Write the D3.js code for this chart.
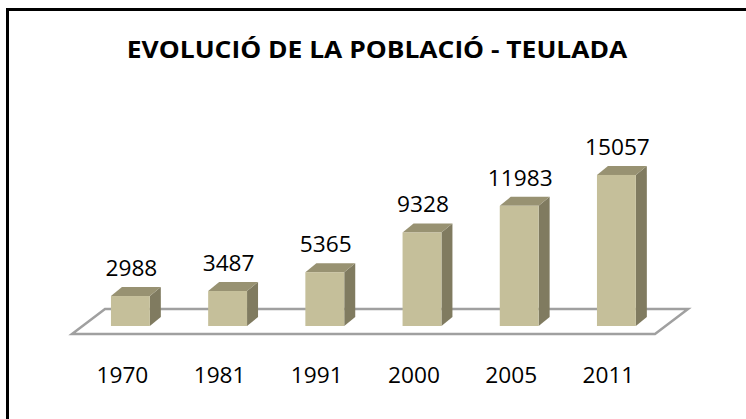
<!DOCTYPE html>
<html lang="en">
	<head>
		<meta charset="utf-8">
		<title>Evolució de la població - Teulada</title>
		<script type="text/javascript" src="https://cdn.jsdelivr.net/npm/d3@7"></script>
		<style type="text/css">
			body { margin: 0; background: #fff; }
			text { font-family: "Open Sans", "Liberation Sans", sans-serif; fill: #000; }
		</style>
	</head>
	<body>
		<script type="text/javascript">

			var width = 746;
			var height = 419;

			// data
			var years = ["1970", "1981", "1991", "2000", "2005", "2011"];
			var population = [2988, 3487, 5365, 9328, 11983, 15057];
			var title = "EVOLUCIÓ DE LA POBLACIÓ - TEULADA";

			var svg = d3.select("body")
						.append("svg")
						.attr("width", width)
						.attr("height", height);

			// outer frame (runs off the right and bottom edge)
			svg.append("rect")
				.attr("x", 7.5).attr("y", 9.5)
				.attr("width", 760).attr("height", 430)
				.attr("fill", "#fff")
				.attr("stroke", "#000")
				.attr("stroke-width", 3);

			// the original text is a bit wider than Open Sans, so stretch it
			svg.append("text")
				.attr("transform", "translate(377,58) scale(1.1,1)")
				.attr("text-anchor", "middle")
				.style("font-weight", "bold")
				.style("font-size", "24px")
				.text(title);

			var base = 326;       // bottom of bar front faces
			var bdx = 11, bdy = -9; // bar depth
			var fdx = 33, fdy = -25; // floor depth

			var xScale = d3.scaleBand()
				.domain(years)
				.range([81.8, 665])
				.paddingInner(0.6)
				.paddingOuter(0.3);

			var yScale = d3.scaleLinear()
				.domain([0, 16000])
				.range([base, base - 160.5]);

			// floor
			var fl = 72, fr = 655, fy = 334;
			svg.append("path")
				.attr("d", "M" + fl + "," + fy + "L" + fr + "," + fy +
					"L" + (fr + fdx) + "," + (fy + fdy) + "L" + (fl + fdx) + "," + (fy + fdy) + "Z")
				.attr("fill", "#fff")
				.attr("stroke", "#a0a0a0")
				.attr("stroke-width", 2.5)
				.attr("stroke-linejoin", "miter");

			var bw = xScale.bandwidth();
			var bars = svg.selectAll("g.bar").data(years).enter()
				.append("g").attr("class", "bar");

			// side face
			bars.append("path")
				.attr("fill", "#807b60")
				.attr("d", function(d, i){
					var x = xScale(d) + bw, y = yScale(population[i]);
					return "M" + x + "," + base + "L" + x + "," + y +
						"L" + (x + bdx) + "," + (y + bdy) + "L" + (x + bdx) + "," + (base + bdy) + "Z";
				});

			// top face
			bars.append("path")
				.attr("fill", "#989272")
				.attr("d", function(d, i){
					var x = xScale(d), y = yScale(population[i]);
					return "M" + x + "," + y + "L" + (x + bw) + "," + y +
						"L" + (x + bw + bdx) + "," + (y + bdy) + "L" + (x + bdx) + "," + (y + bdy) + "Z";
				});

			// front face
			bars.append("rect")
				.attr("x", function(d){ return xScale(d); })
				.attr("y", function(d, i){ return yScale(population[i]); })
				.attr("width", bw)
				.attr("height", function(d, i){ return base - yScale(population[i]); })
				.attr("fill", "#c5bf9a");

			// value labels
			svg.selectAll("text.val").data(years).enter()
				.append("text")
				.attr("class", "val")
				.attr("transform", function(d, i){
					return "translate(" + (xScale(d) + bw / 2 + 1) + "," + (yScale(population[i]) - 20) + ") scale(1.08,1)";
				})
				.attr("text-anchor", "middle")
				.style("font-size", "21px")
				.text(function(d, i){ return population[i]; });

			// category labels
			svg.selectAll("text.cat").data(years).enter()
				.append("text")
				.attr("class", "cat")
				.attr("transform", function(d){
					return "translate(" + (xScale(d) + bw / 2 - 8) + ",383) scale(1.08,1)";
				})
				.attr("text-anchor", "middle")
				.style("font-size", "21px")
				.text(function(d){ return d; });

		</script>
	</body>
</html>
